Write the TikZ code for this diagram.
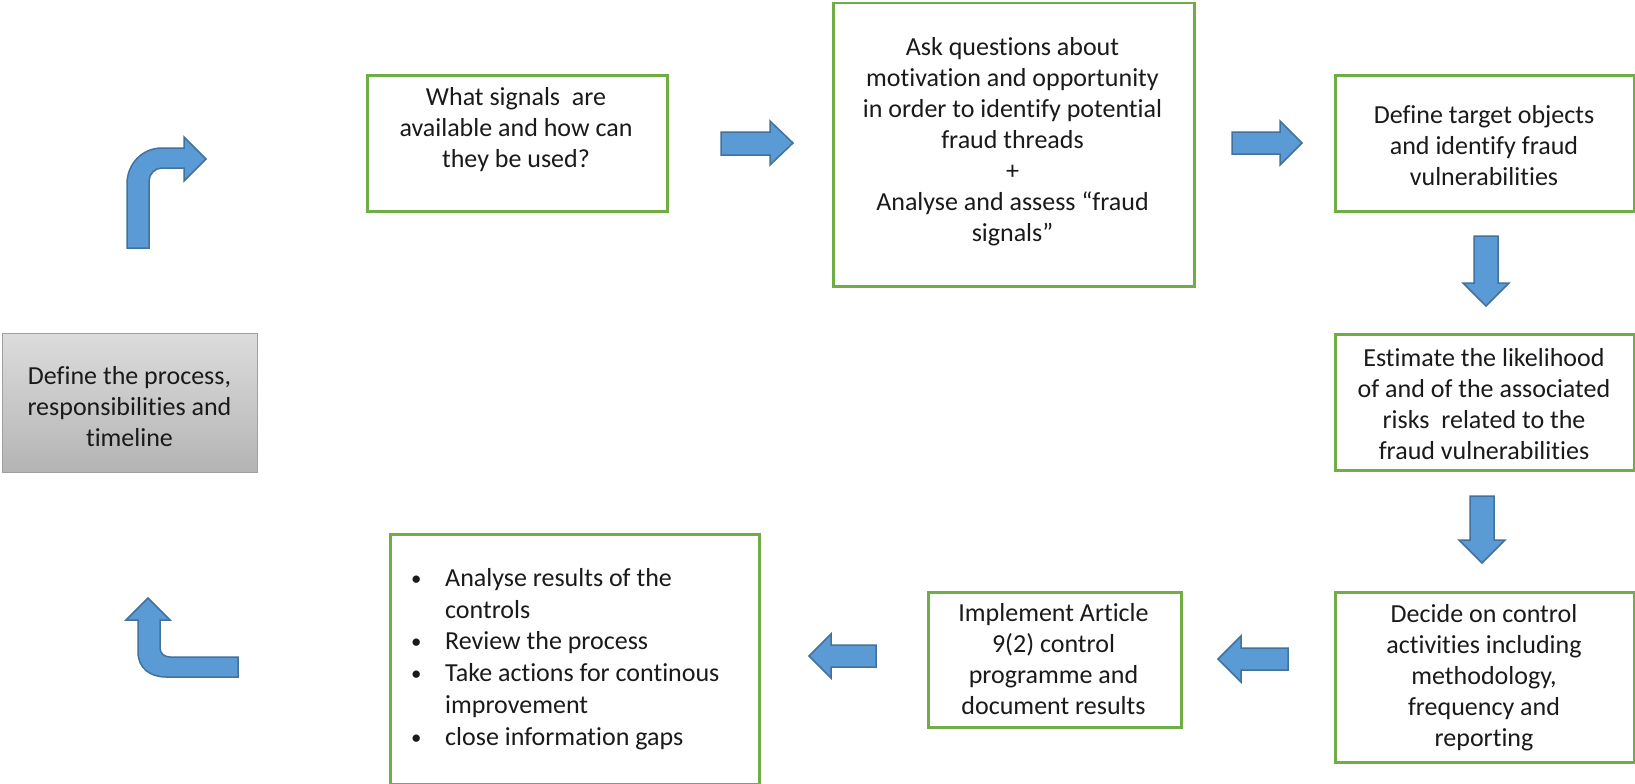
\documentclass[tikz,border=0pt]{standalone}
\usepackage{fontspec}
\setmainfont[Ligatures=NoCommon,RawFeature={-clig;-dlig}]{Carlito}
\definecolor{boxgreen}{HTML}{70AD47}
\definecolor{arrowblue}{HTML}{5B9BD5}
\definecolor{arrowedge}{HTML}{41719C}
\definecolor{greytop}{HTML}{DCDCDC}
\definecolor{greybot}{HTML}{B4B4B4}
\definecolor{greyedge}{HTML}{A0A0A0}
\definecolor{txtcol}{HTML}{1A1A1A}
\newcommand{\bul}{\makebox[34pt][l]{\raisebox{1pt}{\scalebox{0.8}{•}}}}
\newcommand{\nobul}{\makebox[34pt][l]{}}
\begin{document}
\begin{tikzpicture}[x=1pt,y=-1pt,
  box/.style={draw=boxgreen, line width=2.5pt, fill=white, anchor=north west, inner sep=0pt},
  txt/.style={align=center, font=\fontsize{26}{31}\selectfont, inner sep=0pt, text=txtcol},
  blk/.style={fill=arrowblue, draw=arrowedge, line width=1.5pt, line join=miter}]
\useasboundingbox[fill=white] (0,0) rectangle (1635,784);

% boxes
\node[box, minimum width=300pt, minimum height=136pt] (b1) at (366,74) {};
\node[box, minimum width=361pt, minimum height=283pt] (b2) at (832,2) {};
\node[box, minimum width=299pt, minimum height=136pt] (b3) at (1334,74) {};
\node[box, minimum width=299pt, minimum height=136pt] (b4) at (1334,333) {};
\node[box, minimum width=299pt, minimum height=170pt] (b5) at (1334,591) {};
\node[box, minimum width=253pt, minimum height=135pt] (b6) at (927,591) {};
\node[box, minimum width=369pt, minimum height=250pt] (b7) at (389,533) {};
\node[anchor=north west, inner sep=0pt, minimum width=255pt, minimum height=139pt,
      top color=greytop, bottom color=greybot, draw=greyedge, line width=1pt] (g) at (2,333) {};

% texts
\node[txt] (t1) at (516,130) {What signals\ \ are\\available and how can\\they be used?};
\node[txt] (t2) at (1012.5,141.5) {Ask questions about\\motivation and opportunity\\in order to identify potential\\fraud threads\\+\\Analyse and assess “fraud\\signals”};
\node[txt] (t3) at (1484,146) {Define target objects\\and identify fraud\\vulnerabilities};
\node[txt] (t4) at (1484,404) {Estimate the likelihood\\of and of the associated\\risks\ \ related to the\\fraud vulnerabilities};
\node[txt] (t5) at (1484,678) {Decide on control\\activities including\\methodology,\\frequency and\\reporting};
\node[txt] (t6) at (1053.5,659) {Implement Article\\9(2) control\\programme and\\document results};
\node[txt] (tg) at (129.5,407) {Define the process,\\responsibilities and\\timeline};
\node[txt, align=left, anchor=north west, font=\fontsize{26}{31.8}\selectfont] (t7) at (411,568)
  {\bul Analyse results of the\\
   \nobul controls\\
   \bul Review the process\\
   \bul Take actions for continous\\
   \nobul improvement\\
   \bul close information gaps};

% block arrows
\draw[blk] (721,132) -- (770,132) -- (770,121) -- (793,143) -- (770,165) -- (770,155) -- (721,155) -- cycle;
\draw[blk] (1232,132) -- (1280,132) -- (1280,121) -- (1302,143) -- (1280,165) -- (1280,154) -- (1232,154) -- cycle;
\draw[blk] (1474,236) -- (1498,236) -- (1498,283) -- (1509,283) -- (1486,306) -- (1463,283) -- (1474,283) -- cycle;
\draw[blk] (1470,496) -- (1494,496) -- (1494,540) -- (1505,540) -- (1482,563) -- (1459,540) -- (1470,540) -- cycle;
\draw[blk] (1288,648) -- (1241,648) -- (1241,636) -- (1218,659) -- (1241,682) -- (1241,670) -- (1288,670) -- cycle;
\draw[blk] (876,645) -- (831,645) -- (831,634) -- (809,656) -- (831,678) -- (831,667) -- (876,667) -- cycle;

% bent arrows
\draw[blk] (127,248) -- (127,184) .. controls (127,164) and (142,148) .. (162,148)
  -- (184,148) -- (184,137) -- (206,159) -- (184,181) -- (184,168) -- (162,168)
  .. controls (155,168) and (149,174) .. (149,181) -- (149,248) -- cycle;
\draw[blk] (126,620) -- (148,598) -- (170,620) -- (160,620) -- (160,648)
  .. controls (160,653) and (164,657) .. (170,657) -- (238,657) -- (238,677) -- (166,677)
  .. controls (150,677) and (138,668) .. (138,652) -- (138,620) -- cycle;
\end{tikzpicture}
\end{document}
